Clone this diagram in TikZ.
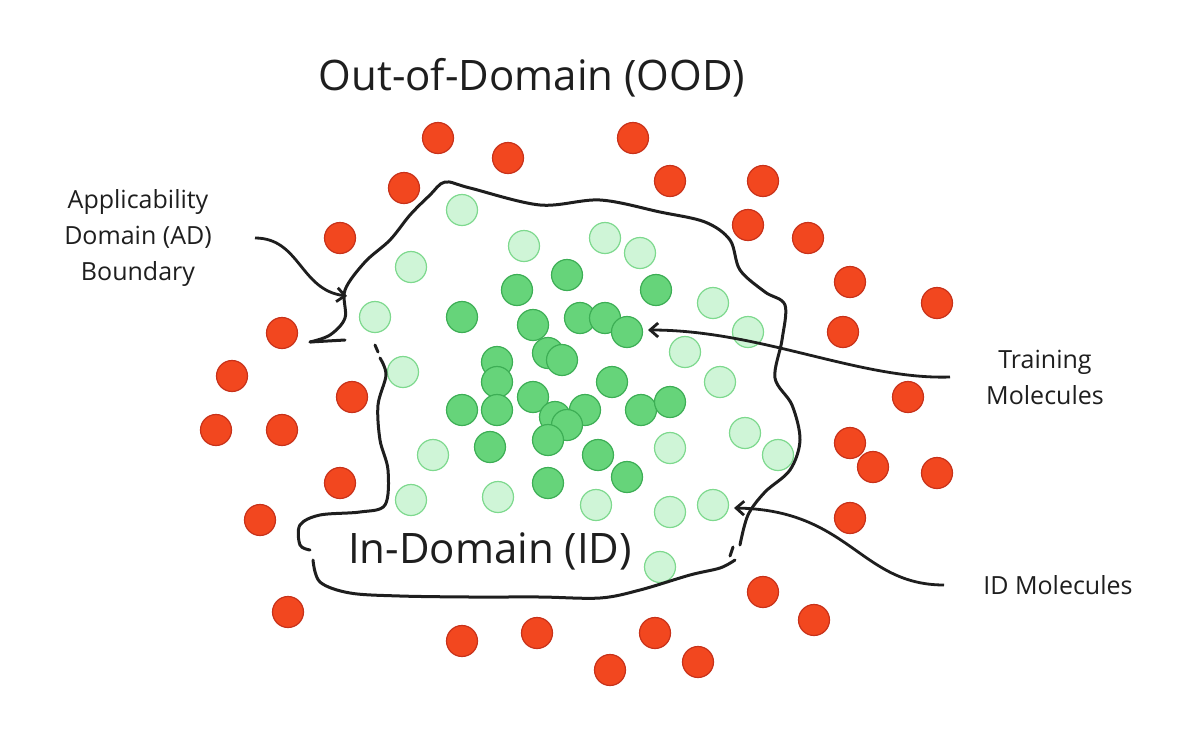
\documentclass[tikz,border=0pt]{standalone}
\usepackage{fontspec}
\setmainfont{Open Sans}
\usetikzlibrary{arrows.meta}
\definecolor{redf}{HTML}{F2471F}\definecolor{redd}{HTML}{C8321A}
\definecolor{dgf}{HTML}{66D47A}\definecolor{dgd}{HTML}{3DAE55}
\definecolor{lgf}{HTML}{CFF5D7}\definecolor{lgd}{HTML}{7ED98E}
\definecolor{ink}{HTML}{1E1E1E}
\begin{document}
\begin{tikzpicture}[x=1pt,y=-1pt,
 ood/.style={circle,draw=redd,fill=redf,line width=1.2pt,minimum size=31pt,inner sep=0pt},
 tr/.style={circle,draw=dgd,fill=dgf,line width=1.2pt,minimum size=31pt,inner sep=0pt},
 idm/.style={circle,draw=lgd,fill=lgf,line width=1.2pt,minimum size=31pt,inner sep=0pt},
 lbl/.style={text=ink,font=\fontsize{25}{36}\selectfont,align=center},
 arr/.style={ink,line width=2.8pt,-{Straight Barb[length=8pt,width=14pt]}}]
\useasboundingbox (0,0) rectangle (1200,745);
\foreach \x/\y [count=\i] in {438/138,508/158,633/138,404/188,670/181,763/181,340/238,748/225,808/238,850/282,937/303,282/333,843/332,232/376,352/397,908/397,216/430,282/430,850/443,873/467,937/473,340/483,260/520,850/518,763/592,814/620,288/612,462/641,537/633,655/633,698/662,610/670}
  \node[ood] (r\i) at (\x,\y) {};
\foreach \x/\y [count=\i] in {462/210,524/246,605/238,640/253,411/267,375/317,713/303,748/332,685/352,403/372,720/382,433/455,745/433,778/455,670/448,411/500,498/497,596/505,670/512,713/505,660/567}
  \node[idm] (l\i) at (\x,\y) {};
\foreach \x/\y [count=\i] in {567/275,517/290,656/290,462/317,533/325,580/318,605/318,627/332,548/353,562/360,497/362,497/382,612/382,533/397,462/410,497/410,585/410,641/410,670/402,555/417,567/425,548/440,490/447,598/455,627/477,548/483}
  \node[tr] (g\i) at (\x,\y) {};
\begin{scope}[ink,line width=3pt,line join=round,line cap=round]
\draw plot[smooth,tension=0.55] coordinates {
 (310,342) (330,335) (345,318) (345,290) (365,262) (390,240) (410,215) (430,195) (445,182)
 (470,188) (540,205) (600,200) (660,212) (705,222) (730,240) (740,270) (765,292) (785,305)
 (782,340) (775,378) (792,405) (800,440) (790,470) (765,492) (748,515) (740,545)};
\draw plot[smooth,tension=0.55] coordinates {
 (735,560) (720,568) (690,575) (640,590) (600,598) (540,597) (470,597) (400,596) (350,593) (320,582) (313,560)};
\draw plot[smooth,tension=0.55] coordinates {
 (310,550) (300,545) (300,525) (320,515) (360,512) (385,505) (388,470) (380,440) (378,405) (386,375) (380,358)};
\draw (310,342) -- (345,340);
\draw (375,345) -- (378,352);
\draw (733,547) -- (730,556);
\end{scope}
\node[text=ink,font=\fontsize{42}{50}\selectfont] (ood) at (532,78) {Out-of-Domain (OOD)};
\node[text=ink,font=\fontsize{42}{50}\selectfont] (id) at (490,551) {In-Domain (ID)};
\node[lbl] (adl) at (138,238) {Applicability\\Domain (AD)\\Boundary};
\node[lbl] (trl) at (1045,377) {Training\\Molecules};
\node[lbl] (idl) at (1058,585) {ID Molecules};
\coordinate (a1) at (255,238); \coordinate (t1) at (950,377); \coordinate (i1) at (944,585);
\coordinate (a2) at (347,296); \coordinate (t2) at (648,330); \coordinate (i2) at (734,508);
\draw[arr] (a1) .. controls (300,238) and (300,290) .. (a2);
\draw[arr] (t1) .. controls (860,380) and (760,330) .. (t2);
\draw[arr] (i1) .. controls (860,585) and (850,510) .. (i2);
\end{tikzpicture}
\end{document}
